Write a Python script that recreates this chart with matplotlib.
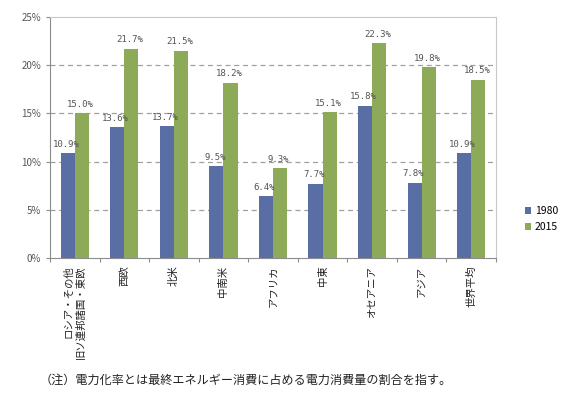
import numpy as np
import matplotlib.pyplot as plt
from matplotlib.ticker import FixedLocator, FuncFormatter

plt.rcParams['font.family'] = ['Noto Sans CJK JP', 'DejaVu Sans']

categories = ['ロシア・その他\n旧ソ連邦諸国・東欧', '西欧', '北米', '中南米', 'アフリカ',
              '中東', 'オセアニア', 'アジア', '世界平均']
v1980 = [10.9, 13.6, 13.7, 9.5, 6.4, 7.7, 15.8, 7.8, 10.9]
v2015 = [15.0, 21.7, 21.5, 18.2, 9.3, 15.1, 22.3, 19.8, 18.5]
years = ['1980', '2015']
note = '（注）電力化率とは最終エネルギー消費に占める電力消費量の割合を指す。'

blue = '#5a6ea6'
green = '#8caa58'
grey = '#8c8c8c'

fig = plt.figure(figsize=(5.75, 3.98), dpi=100)
ax = fig.add_axes([50/575, 1-258/398, 446/575, 241/398])

x = np.arange(len(categories))
w = 0.285
b1 = ax.bar(x - w/2, v1980, w, color=blue, label=years[0], zorder=3)
b2 = ax.bar(x + w/2, v2015, w, color=green, label=years[1], zorder=3)

for bars, vals in ((b1, v1980), (b2, v2015)):
    for r, v in zip(bars, vals):
        ax.text(r.get_x() + r.get_width()/2 - 0.03, v + 0.45, f'{v:.1f}%',
                ha='center', va='bottom', fontsize=6.5, color='#555555',
                family='DejaVu Sans Mono')

ax.set_xlim(-0.5, len(categories) - 0.5)
ax.set_ylim(0, 25)
ax.yaxis.set_major_locator(FixedLocator([0, 5, 10, 15, 20, 25]))
ax.yaxis.set_major_formatter(FuncFormatter(lambda v, p: f'{v:.0f}%'))
for g in (5, 10, 15, 20):
    ax.axhline(g, color='#a0a0a0', lw=0.9, ls=(0, (4, 3)), zorder=1)

ax.set_xticks(np.arange(len(categories) + 1) - 0.5)
ax.set_xticklabels([])
for i, c in enumerate(categories):
    ax.text(i, -0.8, c, rotation=90, ha='center', va='top', fontsize=7.5,
            multialignment='right', linespacing=1.3, color='#222222')

ax.tick_params(axis='both', direction='out', length=3, color=grey,
               labelsize=7, labelcolor='#555555', width=0.8)
for s in ('left', 'bottom'):
    ax.spines[s].set_color(grey)
for s in ('top', 'right'):
    ax.spines[s].set_color('#c8c8c8')

ax.legend(loc='center left', bbox_to_anchor=(520/575, 1-219/398),
          bbox_transform=fig.transFigure, frameon=False, fontsize=7.5,
          handlelength=0.6, handleheight=0.6, handletextpad=0.3,
          labelspacing=0.6, borderpad=0)

fig.text(40/575, 1-380/398, note, ha='left', va='center', fontsize=8.7,
         color='#222222')

fig.savefig('out.png', dpi=100)
